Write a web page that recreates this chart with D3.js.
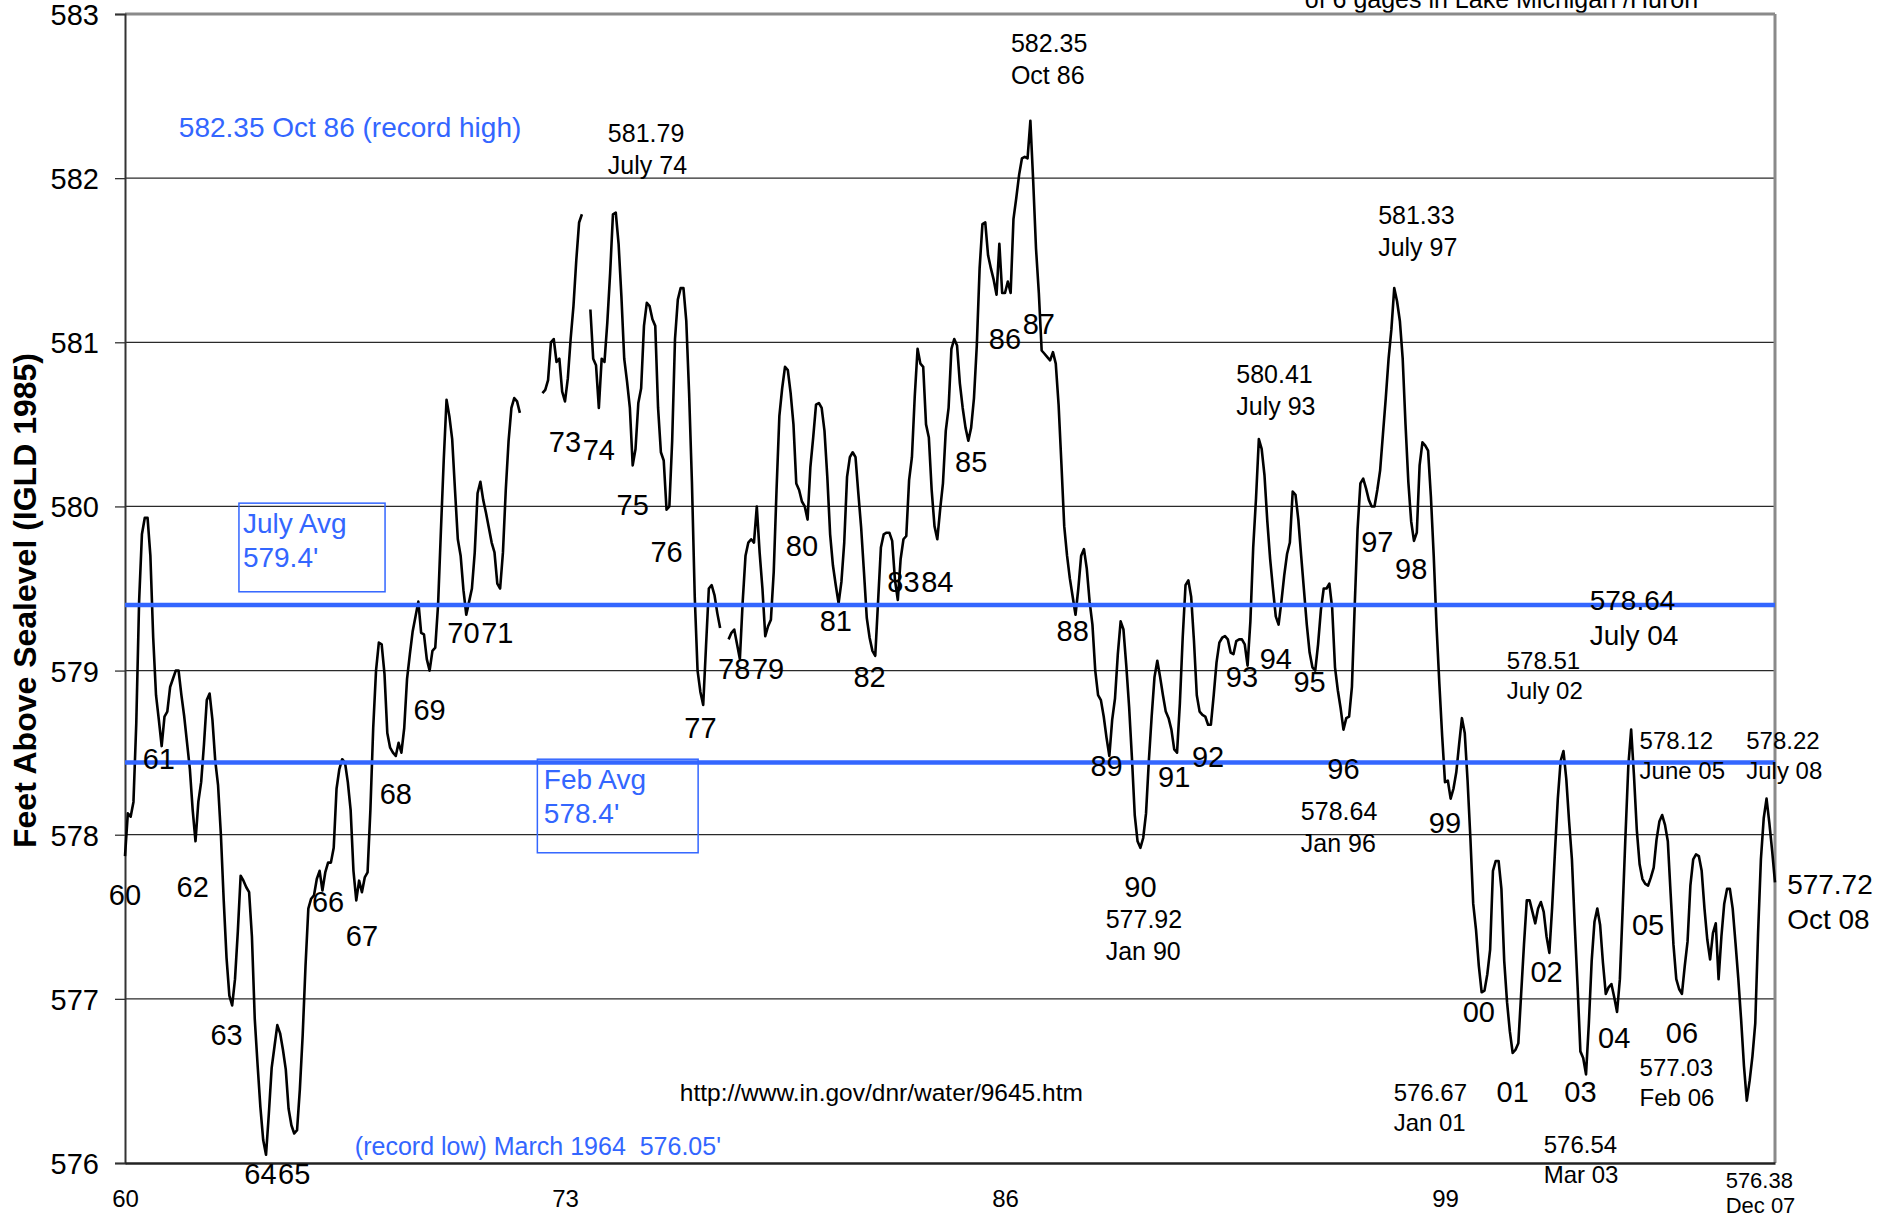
<!DOCTYPE html>
<html>
<head>
<meta charset="utf-8">
<script src="https://cdn.jsdelivr.net/npm/d3@7"></script>
<style>
  html, body { margin: 0; padding: 0; background: #fff; }
  svg { display: block; font-family: "Liberation Sans", Arial, Helvetica, sans-serif; }
  text { white-space: pre; }
</style>
</head>
<body>
<svg id="chart" width="1891" height="1219"></svg>
<script>
// monthly mean level (ft, IGLD 1985), Jan..Dec, one array per decade; null = no reading
const levels1960s = [
  577.87, 578.13, 578.11, 578.2, 578.68, 579.42, 579.83, 579.93, 579.93, 579.7, 579.2, 578.85,
  578.7, 578.54, 578.72, 578.75, 578.9, 578.95, 579.0, 579.0, 578.85, 578.72, 578.56, 578.4,
  578.15, 577.96, 578.2, 578.32, 578.55, 578.82, 578.86, 578.7, 578.45, 578.3, 578.0, 577.6,
  577.25, 577.02, 576.96, 577.12, 577.41, 577.75, 577.72, 577.68, 577.65, 577.38, 576.88, 576.6,
  576.34, 576.14, 576.05, 576.3, 576.58, 576.71, 576.84, 576.79, 576.69, 576.57, 576.33, 576.23,
  576.18, 576.2, 576.45, 576.78, 577.2, 577.55, 577.61, 577.63, 577.73, 577.78, 577.66, 577.77,
  577.83, 577.83, 577.92, 578.28, 578.4, 578.46, 578.44, 578.32, 578.15, 577.78, 577.6, 577.72,
  577.65, 577.74, 577.77, 578.15, 578.65, 579.0, 579.17, 579.16, 578.98, 578.62, 578.53, 578.5,
  578.48, 578.56, 578.5, 578.65, 578.95, 579.1, 579.24, 579.33, 579.42, 579.23, 579.22, 579.07,
  579.0, 579.12, 579.14, 579.4, 579.85, 580.28, 580.65, 580.55, 580.41, 580.1, 579.8, 579.7
];
const levels1970s = [
  579.49, 579.34, 579.42, 579.5, 579.72, 580.08, 580.15, 580.04, 579.96, 579.87, 579.78, 579.72,
  579.53, 579.5, 579.72, 580.1, 580.4, 580.6, 580.66, 580.64, 580.57, null, null, null,
  null, null, null, null, 580.69, 580.71, 580.77, 581.0, 581.02, 580.88, 580.9, 580.7,
  580.64, 580.78, 581.02, 581.22, 581.5, 581.73, 581.78, null, null, 581.2, 580.9, 580.86,
  580.6, 580.9, 580.88, 581.12, 581.42, 581.78, 581.79, 581.6, 581.28, 580.9, 580.76, 580.6,
  580.25, 580.35, 580.63, 580.72, 581.1, 581.24, 581.22, 581.14, 581.1, 580.6, 580.33, 580.28,
  579.98, 580.0, 580.4, 581.02, 581.26, 581.33, 581.33, 581.13, 580.69, 580.15, 579.45, 579.0,
  578.87, 578.79, 579.15, 579.5, 579.52, 579.46, 579.35, 579.26, null, null, 579.19, 579.23,
  579.25, 579.16, 579.07, 579.42, 579.7, 579.78, 579.8, 579.78, 580.0, 579.72, 579.5, 579.21,
  579.27, 579.31, 579.6, 580.1, 580.55, 580.72, 580.85, 580.83, 580.69, 580.5, 580.14, 580.1
];
const levels1980s = [
  580.03, 580.0, 579.92, 580.24, 580.42, 580.62, 580.63, 580.6, 580.46, 580.18, 579.83, 579.64,
  579.52, 579.41, 579.54, 579.78, 580.18, 580.3, 580.33, 580.3, 580.08, 579.87, 579.6, 579.32,
  579.2, 579.12, 579.09, 579.42, 579.75, 579.83, 579.84, 579.84, 579.79, 579.55, 579.43, 579.68,
  579.8, 579.82, 580.16, 580.3, 580.67, 580.96, 580.87, 580.85, 580.5, 580.42, 580.1, 579.88,
  579.8, 579.98, 580.14, 580.46, 580.6, 580.96, 581.02, 580.98, 580.75, 580.6, 580.48, 580.4,
  580.48, 580.66, 580.98, 581.45, 581.72, 581.73, 581.53, 581.45, 581.38, 581.29, 581.6, 581.3,
  581.3, 581.37, 581.3, 581.75, 581.88, 582.02, 582.12, 582.13, 582.12, 582.35, 581.98, 581.57,
  581.3, 580.95, 580.93, 580.91, 580.89, 580.94, 580.87, 580.62, 580.26, 579.88, 579.7, 579.56,
  579.45, 579.34, 579.5, 579.7, 579.74, 579.62, 579.42, 579.28, 579.0, 578.85, 578.82, 578.72,
  578.59, 578.48, 578.7, 578.83, 579.1, 579.3, 579.25, 579.03, 578.78, 578.47, 578.12, 577.96
];
const levels1990s = [
  577.92, 577.98, 578.13, 578.45, 578.72, 578.96, 579.06, 578.96, 578.85, 578.75, 578.71, 578.64,
  578.52, 578.5, 578.8, 579.2, 579.52, 579.55, 579.45, 579.18, 578.85, 578.75, 578.73, 578.72,
  578.67, 578.67, 578.85, 579.05, 579.17, 579.2, 579.21, 579.19, 579.11, 579.1, 579.18, 579.19,
  579.19, 579.16, 579.03, 579.3, 579.75, 580.05, 580.41, 580.35, 580.19, 579.91, 579.68, 579.5,
  579.33, 579.28, 579.42, 579.58, 579.71, 579.78, 580.09, 580.07, 579.92, 579.7, 579.49, 579.28,
  579.11, 579.02, 579.0, 579.16, 579.37, 579.5, 579.5, 579.53, 579.38, 579.02, 578.88, 578.77,
  578.64, 578.71, 578.72, 578.9, 579.4, 579.86, 580.14, 580.17, 580.11, 580.04, 580.0, 580.0,
  580.1, 580.22, 580.44, 580.66, 580.9, 581.08, 581.33, 581.25, 581.13, 580.9, 580.5, 580.15,
  579.91, 579.79, 579.84, 580.25, 580.39, 580.37, 580.34, 580.06, 579.7, 579.27, 578.92, 578.6,
  578.32, 578.33, 578.22, 578.28, 578.38, 578.55, 578.71, 578.62, 578.33, 577.98, 577.58, 577.42
];
const levels2000s = [
  577.2, 577.04, 577.05, 577.15, 577.3, 577.78, 577.84, 577.84, 577.67, 577.23, 576.98, 576.8,
  576.67, 576.69, 576.73, 577.03, 577.33, 577.6, 577.6, 577.53, 577.46, 577.55, 577.59, 577.53,
  577.38, 577.28, 577.56, 577.9, 578.22, 578.45, 578.51, 578.34, 578.08, 577.85, 577.45, 577.08,
  576.68, 576.64, 576.54, 576.85, 577.23, 577.47, 577.55, 577.45, 577.22, 577.03, 577.07, 577.09,
  577.01, 576.92, 577.12, 577.55, 578.0, 578.42, 578.64, 578.36, 578.03, 577.82, 577.73, 577.7,
  577.69, 577.74, 577.8, 577.97, 578.08, 578.12, 578.06, 577.96, 577.64, 577.33, 577.12, 577.06,
  577.03, 577.2, 577.35, 577.69, 577.85, 577.88, 577.87, 577.78, 577.55, 577.36, 577.24, 577.4,
  577.46, 577.12, 577.38, 577.58, 577.67, 577.67, 577.55, 577.34, 577.12, 576.87, 576.59, 576.38,
  576.5, 576.65, 576.85, 577.4, 577.85, 578.1, 578.22, 578.07, 577.9, 577.71
];

const firstYear = 1960;
const yTicks = [576, 577, 578, 579, 580, 581, 582, 583];
const xTickYears = [1960, 1973, 1986, 1999];
const julyAvg = 579.4;
const febAvg = 578.44;

// year tags next to the trace: [label, year, level of baseline]
const yearTags = [
  ['60', 1960, 577.57], ['61', 1961, 578.40], ['62', 1962, 577.62], ['63', 1963, 576.72],
  ['64', 1964, 575.87], ['65', 1965, 575.87], ['66', 1966, 577.53], ['67', 1967, 577.32],
  ['68', 1968, 578.19], ['69', 1969, 578.70], ['70', 1970, 579.17], ['71', 1971, 579.17],
  ['73', 1973, 580.33], ['74', 1974, 580.28], ['75', 1975, 579.95], ['76', 1976, 579.66],
  ['77', 1977, 578.59], ['78', 1978, 578.95], ['79', 1979, 578.95], ['80', 1980, 579.70],
  ['81', 1981, 579.24], ['82', 1982, 578.90], ['83', 1983, 579.48], ['84', 1984, 579.48],
  ['85', 1985, 580.21], ['86', 1986, 580.96], ['87', 1987, 581.05], ['88', 1988, 579.18],
  ['89', 1989, 578.36], ['90', 1990, 577.62], ['91', 1991, 578.29], ['92', 1992, 578.41],
  ['93', 1993, 578.90], ['94', 1994, 579.01], ['95', 1995, 578.87], ['96', 1996, 578.34],
  ['97', 1997, 579.72], ['98', 1998, 579.56], ['99', 1999, 578.01], ['00', 2000, 576.86],
  ['01', 2001, 576.37], ['02', 2002, 577.10], ['03', 2003, 576.37], ['04', 2004, 576.70],
  ['05', 2005, 577.39], ['06', 2006, 576.73]
];

// extreme readings: [value, month text, month index of left edge, level of first baseline, font px]
const extremes = [
  ['581.79', 'July 74', 171.2, 582.22, 25],
  ['582.35', 'Oct 86', 314.1, 582.77, 25],
  ['581.33', 'July 97', 444.3, 581.72, 25],
  ['580.41', 'July 93', 394.0, 580.75, 25],
  ['578.64', 'July 04', 519.3, 579.37, 28],
  ['578.51', 'July 02', 489.9, 579.01, 24],
  ['578.12', 'June 05', 537.0, 578.52, 24],
  ['578.22', 'July 08', 574.8, 578.52, 24],
  ['578.64', 'Jan 96', 416.9, 578.09, 25],
  ['577.92', 'Jan 90', 347.7, 577.43, 25],
  ['576.67', 'Jan 01', 449.8, 576.38, 24],
  ['576.54', 'Mar 03', 503.0, 576.06, 24],
  ['577.03', 'Feb 06', 537.0, 576.53, 24],
  ['576.38', 'Dec 07', 567.5, 575.85, 22],
  ['577.72', 'Oct 08', 589.3, 577.64, 28]
];

const blue = '#3366ff';
const W = 1891, H = 1219;
const box = { left: 125, right: 1775, top: 14, bottom: 1163 };

const series = [levels1960s, levels1970s, levels1980s, levels1990s, levels2000s]
  .flat()
  .map((v, i) => ({ m: i, v }));

const x = d3.scaleLinear().domain([0, series.length - 1]).range([box.left, box.right]);
const y = d3.scaleLinear().domain([576, 583]).range([box.bottom, box.top]);
const monthOf = (year) => (year - firstYear) * 12;

const svg = d3.select('#chart').attr('width', W).attr('height', H);

// title, only its last line shows above the frame
svg.append('text')
  .attr('x', x(488)).attr('y', 8)
  .attr('text-anchor', 'middle')
  .attr('font-size', 25)
  .text('of 6 gages in Lake Michigan /Huron');

// gridlines
svg.append('g')
  .selectAll('line')
  .data(yTicks.filter(t => t > 576 && t < 583))
  .join('line')
  .attr('x1', box.left).attr('x2', box.right)
  .attr('y1', d => y(d)).attr('y2', d => y(d))
  .attr('stroke', '#2a2a2a').attr('stroke-width', 1.3);

// plot frame top / right
svg.append('line')
  .attr('x1', box.left).attr('x2', box.right)
  .attr('y1', y(583)).attr('y2', y(583))
  .attr('stroke', '#8a8a8a').attr('stroke-width', 3);
svg.append('line')
  .attr('x1', box.right).attr('x2', box.right)
  .attr('y1', y(583)).attr('y2', y(576))
  .attr('stroke', '#8a8a8a').attr('stroke-width', 3);

// y axis
const yAxis = svg.append('g')
  .attr('transform', `translate(${box.left},0)`)
  .call(d3.axisLeft(y).tickValues(yTicks).tickFormat(d3.format('d')).tickSize(10).tickPadding(16));
yAxis.select('.domain').attr('stroke', '#333').attr('stroke-width', 2);
yAxis.selectAll('.tick line').attr('stroke', '#333').attr('stroke-width', 1.3);
yAxis.selectAll('.tick text')
  .attr('font-size', 29).attr('dy', '0.36em')
  .attr('font-family', '"Liberation Sans", Arial, sans-serif').attr('fill', '#000');

// x axis
const xAxis = svg.append('g')
  .attr('transform', `translate(0,${box.bottom})`)
  .call(d3.axisBottom(x)
    .tickValues(xTickYears.map(monthOf))
    .tickFormat(m => String(firstYear + m / 12).slice(2))
    .tickSize(0).tickPadding(27));
xAxis.select('.domain').attr('stroke', '#222').attr('stroke-width', 2.5);
xAxis.selectAll('.tick text')
  .attr('font-size', 24).attr('font-family', '"Liberation Sans", Arial, sans-serif').attr('fill', '#000');

// axis title
svg.append('text')
  .attr('transform', `translate(36,${(y(583) + y(576)) / 2 + 12}) rotate(-90)`)
  .attr('text-anchor', 'middle')
  .attr('font-size', 32).attr('font-weight', 'bold')
  .text('Feet Above Sealevel (IGLD 1985)');

// water level trace
const line = d3.line()
  .defined(d => d.v != null)
  .x(d => x(d.m))
  .y(d => y(d.v));

svg.append('path')
  .datum(series)
  .attr('d', line)
  .attr('fill', 'none')
  .attr('stroke', '#000')
  .attr('stroke-width', 2.6)
  .attr('stroke-linejoin', 'round');

// July / Feb averages
svg.append('g')
  .selectAll('line')
  .data([julyAvg, febAvg])
  .join('line')
  .attr('x1', box.left).attr('x2', box.right)
  .attr('y1', d => y(d)).attr('y2', d => y(d))
  .attr('stroke', blue).attr('stroke-width', 4.5);

const avgBoxes = [
  { lines: ['July Avg', "579.4'"], m0: 40.4, m1: 92.2, top: 580.02, bottom: 579.48, tm: 41.8, tv: 579.84 },
  { lines: ['Feb Avg', "578.4'"], m0: 146.2, m1: 203.2, top: 578.46, bottom: 577.89, tm: 148.5, tv: 578.28 }
];
avgBoxes.forEach(b => {
  svg.append('rect')
    .attr('x', x(b.m0)).attr('y', y(b.top))
    .attr('width', x(b.m1) - x(b.m0)).attr('height', y(b.bottom) - y(b.top))
    .attr('fill', 'none').attr('stroke', blue).attr('stroke-width', 1.5);
  const t = svg.append('text')
    .attr('x', x(b.tm)).attr('y', y(b.tv))
    .attr('font-size', 28).attr('fill', blue);
  b.lines.forEach((s, i) => {
    t.append('tspan').attr('x', x(b.tm)).attr('dy', i ? 34 : 0).text(s);
  });
});

// free text notes
const notes = [
  { text: '582.35 Oct 86 (record high)', m: 19.1, v: 582.25, size: 28, color: blue },
  { text: "(record low) March 1964  576.05'", m: 81.5, v: 576.05, size: 25, color: blue },
  { text: 'http://www.in.gov/dnr/water/9645.htm', m: 196.7, v: 576.38, size: 24.5, color: '#000' }
];
svg.append('g')
  .selectAll('text')
  .data(notes)
  .join('text')
  .attr('x', d => x(d.m)).attr('y', d => y(d.v))
  .attr('font-size', d => d.size)
  .attr('fill', d => d.color)
  .text(d => d.text);

// year tags
svg.append('g')
  .selectAll('text')
  .data(yearTags)
  .join('text')
  .attr('x', d => x(monthOf(d[1])))
  .attr('y', d => y(d[2]))
  .attr('text-anchor', 'middle')
  .attr('font-size', 29)
  .text(d => d[0]);

// extreme readings, two lines each
const ext = svg.append('g')
  .selectAll('text')
  .data(extremes)
  .join('text')
  .attr('x', d => x(d[2]))
  .attr('y', d => y(d[3]))
  .attr('font-size', d => d[4]);
ext.append('tspan').text(d => d[0]);
ext.append('tspan')
  .attr('x', d => x(d[2]))
  .attr('dy', d => d[4] <= 22 ? 25 : Math.round(d[4] * 1.26))
  .text(d => d[1]);
</script>
</body>
</html>
